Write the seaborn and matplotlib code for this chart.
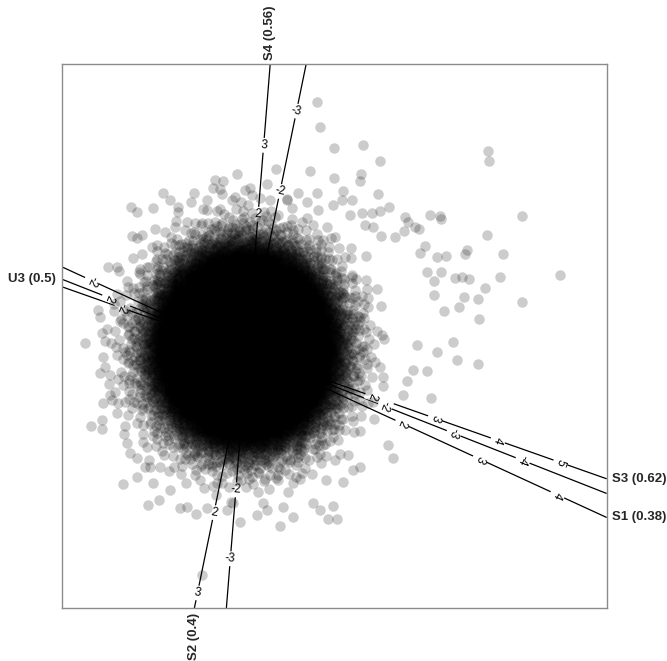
import numpy as np
import pandas as pd
import matplotlib
matplotlib.use("Agg")
import matplotlib.pyplot as plt
import seaborn as sns

# ---------------------------------------------------------------------------
# Biplot data
# ---------------------------------------------------------------------------
# Scattered observations outside the dense centre (PC1, PC2 scores)
outer_pc1 = [
    0.87, 1.16, 1.33, 0.87, 1.14, 1.13, 0.96, 1.31, 1.05, 0.95,
    2.41, 2.42, 2.75, 2.40, 2.56, 3.13, 2.53, 1.83, 1.93, 1.94,
    1.42, 1.33, 1.58, 1.61, 1.68, 1.72, 1.57, 1.34, 1.48, 2.20,
    2.18, 1.99, 1.90, 1.78, 1.73, 1.80, 1.94, 1.87, 2.08, 2.15,
    2.22, 2.38, 1.25, 1.15, 1.03, 1.18, 1.26, 2.75, 2.31, 2.12,
    2.17, 2.32, 2.06,
    2.10, 2.31, 1.90, 1.84, 1.60, 1.56, 1.70, 1.80, 1.66, 1.41,
    1.46, 1.13, 1.06, 0.90, 0.81, 0.86, 0.96, 1.97, 1.87,
    0.70, 0.73, 0.63, 0.29, -0.10, -0.32, -0.24, -0.27, -0.53, -0.84,
    -1.16, -1.10, -1.15, -0.77, -0.94, -0.69, -0.40, 0.03, 0.05, 0.20,
    0.51, 0.70, 0.86, 0.60, 0.40, -0.02, -0.12, -0.34,
    -1.05, -1.39, -1.30, -1.62, -1.42, -1.47, -1.49, -1.44, -1.42, -1.37,
    -1.44, -1.35, -1.29, -1.56, -1.45, -1.45, -1.20, -1.17, -1.10, -0.97,
    -1.24, -1.10, -0.99, -0.88, -0.67, -0.51, -0.45, -0.07, 0.33, 0.46,
    0.10, 0.20, -0.94, -0.77, -0.60, -0.40, -0.20, -0.14, 0.36, 0.66,
    0.73, -1.37, -1.30, -1.02,
]
outer_pc2 = [
    2.04, 2.07, 1.91, 1.74, 1.78, 1.71, 1.61, 1.58, 1.52, 1.52,
    2.01, 1.91, 1.36, 1.17, 0.98, 0.77, 0.75, 1.37, 1.36, 1.33,
    1.45, 1.41, 1.35, 1.30, 1.25, 1.23, 1.21, 1.16, 1.15, 1.02,
    0.98, 0.96, 0.95, 1.06, 0.99, 0.80, 0.80, 0.71, 0.74, 0.75,
    0.73, 0.64, 1.39, 1.39, 1.37, 1.27, 1.25, 0.50, 0.53, 0.45,
    0.55, 0.33, 0.10,
    -0.08, -0.12, 0.00, -0.46, -0.29, -0.43, 0.07, -0.19, -0.18, -0.93,
    -1.06, -1.15, -1.18, -1.67, -1.67, -1.54, -1.30, 0.41, 0.57,
    2.50, 2.25, 1.81, 1.83, 1.78, 1.72, 1.71, 1.63, 1.59, 1.59,
    1.45, 1.40, 1.16, 1.52, 1.44, 1.45, 1.52, 1.64, 1.57, 1.68,
    1.59, 1.59, 1.47, 1.50, 1.53, 1.62, 1.55, 1.64,
    1.17, 0.85, 0.85, 0.09, 0.11, 0.35, 0.42, -0.05, -0.15, -0.23,
    -0.51, -0.48, -0.51, -0.74, -0.77, -0.68, -0.91, -1.01, -1.06, -1.15,
    -1.32, -1.25, -1.53, -1.48, -1.56, -1.62, -2.23, -1.70, -1.74, -1.65,
    -1.63, -1.58, -1.31, -1.38, -1.55, -1.56, -1.58, -1.51, -1.55, -1.51,
    -1.58, -0.43, -0.61, -1.15,
]

# Dense centre of the cloud: centre, half-widths and layered density profile
core_centre = (-0.02, 0.05)
core_halfwidth = (0.93, 1.0)
core_rho = [0.0, 0.9, 1.0, 1.1, 1.2, 1.3, 1.4, 1.5, 1.6]
core_layers = [25.0, 25.0, 14.0, 7.0, 3.8, 2.0, 1.0, 0.45, 0.2]

# Calibrated biplot axes: direction of one unit, tick values, label
axis_names = ["S1 (0.38)", "S2 (0.4)", "S3 (0.62)", "S4 (0.56)", "U3 (0.5)"]
axis_dirs = [(0.776, -0.357), (-0.165, -0.803), (0.627, -0.221),
             (0.0555, 0.689), (-0.689, 0.271)]
axis_ticks = [[-2, 2, 3, 4], [-3, -2, 2, 3], [-2, 2, 3, 4, 5],
              [-3, -2, 2, 3], [-4, -3, -2, 2]]


def halton(idx, base):
    """Van der Corput radical inverse of the integers in idx."""
    idx = np.asarray(idx, dtype=np.int64).copy()
    out = np.zeros(idx.shape, dtype=float)
    f = 1.0 / base
    while np.any(idx > 0):
        out += f * (idx % base)
        idx //= base
        f /= base
    return out


# ---------------------------------------------------------------------------
# Centre of the cloud, laid out on a low-discrepancy pattern that follows
# the layered density profile
# ---------------------------------------------------------------------------
rho_grid = np.linspace(0, core_rho[-1], 800)
lay_grid = np.exp(np.interp(rho_grid, core_rho, np.log(core_layers)))
dot_area = np.pi * 0.0525 ** 2 / (core_halfwidth[0] * core_halfwidth[1])
dens = lay_grid * 2 * np.pi * rho_grid / dot_area
cum = np.concatenate([[0], np.cumsum(0.5 * (dens[1:] + dens[:-1]) * np.diff(rho_grid))])
n_core = int(cum[-1])
k = np.arange(1, n_core + 1)
rho_k = np.interp(halton(k, 2) * cum[-1], cum, rho_grid)
theta_k = 2 * np.pi * halton(k, 3)
core_pc1 = core_centre[0] + core_halfwidth[0] * rho_k * np.cos(theta_k)
core_pc2 = core_centre[1] + core_halfwidth[1] * rho_k * np.sin(theta_k)

scores = pd.DataFrame({
    "PC1": np.concatenate([core_pc1, outer_pc1]),
    "PC2": np.concatenate([core_pc2, outer_pc2]),
})

# ---------------------------------------------------------------------------
# Figure
# ---------------------------------------------------------------------------
sns.set_theme(style="white")
plt.rcParams["font.family"] = ["Liberation Sans", "DejaVu Sans"]

fig = plt.figure(figsize=(6.67, 6.61), dpi=100)
ax = fig.add_axes([0.0925, 0.0797, 0.8171, 0.8230])
xmin, xmax = -1.853, 3.597
ymin, ymax = -2.563, 2.877
ax.set_xlim(xmin, xmax)
ax.set_ylim(ymin, ymax)

for name, (dx, dy), ticks in zip(axis_names, axis_dirs, axis_ticks):
    tx = sorted([xmin / dx, xmax / dx])
    ty = sorted([ymin / dy, ymax / dy])
    t_lo, t_hi = max(tx[0], ty[0]), min(tx[1], ty[1])
    ax.plot([t_lo * dx, t_hi * dx], [t_lo * dy, t_hi * dy],
            color="black", lw=0.9, zorder=1, solid_capstyle="butt")

    ang = np.degrees(np.arctan2(dy, dx))
    if ang > 90:
        ang -= 180
    elif ang <= -90:
        ang += 180
    for v in ticks:
        ax.text(v * dx, v * dy, f"{v}", rotation=ang - 90,
                rotation_mode="anchor", ha="center", va="center",
                fontsize=8.5, color="black", zorder=2,
                bbox=dict(boxstyle="square,pad=0.12", fc="white", ec="none"))

    ex, ey = t_hi * dx, t_hi * dy
    if t_hi == tx[1]:
        ax.annotate(name, (ex, ey), xytext=(4 if dx > 0 else -4, 0),
                    textcoords="offset points",
                    ha="left" if dx > 0 else "right", va="center",
                    fontsize=9.5, fontweight="bold", annotation_clip=False)
    else:
        ax.annotate(name, (ex, ey), xytext=(0, 3 if dy > 0 else -3),
                    textcoords="offset points", rotation=90,
                    ha="center", va="bottom" if dy > 0 else "top",
                    fontsize=9.5, fontweight="bold", annotation_clip=False)

sns.scatterplot(data=scores, x="PC1", y="PC2", color="black", alpha=0.2,
                s=57, linewidth=0, legend=False, ax=ax, zorder=3)

ax.set_xlabel("")
ax.set_ylabel("")
ax.set_xticks([])
ax.set_yticks([])
for sp in ax.spines.values():
    sp.set_color("#8c8c8c")
    sp.set_linewidth(1.0)

fig.savefig("out.png", dpi=100, facecolor="white")
